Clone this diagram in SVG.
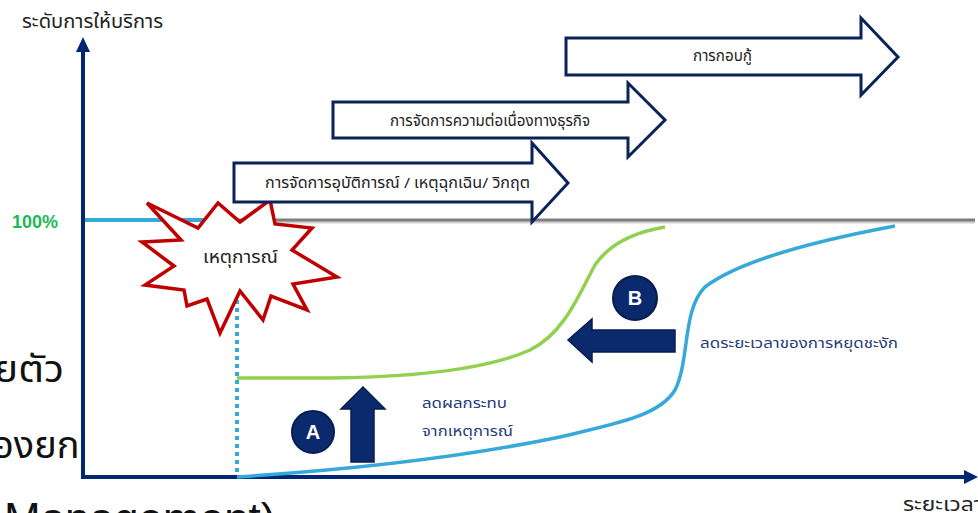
<svg xmlns="http://www.w3.org/2000/svg" width="978" height="513" viewBox="0 0 978 513">
<style>
.th{font-family:"Noto Sans Thai","Tahoma","Noto Sans","DejaVu Sans",sans-serif}
.lbl{font-size:15px;fill:#222}
.navy{fill:#1f3b7a;font-size:14px}
.blk{fill:#fff;stroke:#0a2358;stroke-width:3;stroke-linejoin:miter}
.badge{fill:#0b2a6e;stroke:#071d4d;stroke-width:2}
.bl{font-family:"Liberation Sans",Arial,sans-serif;font-weight:bold;font-size:20px;fill:#fff}
.solid{fill:#0b2a6e;stroke:#071d4d;stroke-width:1.5}
.bg{font-size:38px;fill:#111}
</style>
<rect width="978" height="513" fill="#fff"/>
<!-- background slide fragments -->
<g id="bg-text">
<text class="th bg" x="-6" y="382" textLength="70" lengthAdjust="spacingAndGlyphs">ยตัว</text>
<text class="th bg" x="-8" y="458">องยก</text>
<text x="4" y="534" font-family="Liberation Sans,Arial,sans-serif" font-size="44" fill="#111">Management)</text>
</g>
<g id="connectors">
<!-- axes -->
<line x1="83" y1="50" x2="83" y2="479" stroke="#002776" stroke-width="4"/>
<polygon points="76,52 90,52 83,37" fill="#002776"/>
<line x1="81" y1="477" x2="966" y2="477" stroke="#002776" stroke-width="4"/>
<polygon points="964,470 964,484 978,477" fill="#002776"/>
<!-- 100% level -->
<line x1="85" y1="220" x2="220" y2="220" stroke="#36a9d9" stroke-width="4"/>
<line x1="236" y1="222" x2="975" y2="222" stroke="#d0d0d0" stroke-width="3"/>
<line x1="236" y1="220" x2="975" y2="220" stroke="#7f7f7f" stroke-width="3"/>
<!-- dotted incident line -->
<line x1="237" y1="292" x2="237" y2="476" stroke="#36a9d9" stroke-width="4" stroke-dasharray="4,4"/>
<!-- green curve -->
<path d="M237,378 L330,378 C420,377 490,368 530,350 C565,333 580,292 595,265 C610,243 635,232 665,227" fill="none" stroke="#92d050" stroke-width="3.5"/>
<!-- blue curve -->
<path d="M237,477 C330,471 450,460 560,437 C620,423 660,415 675,390 C690,360 682,310 705,287 C740,260 820,240 895,226" fill="none" stroke="#36a9d9" stroke-width="3.5"/>
</g>
<g id="axis-labels">
<text class="th" x="22" y="28" font-size="19" fill="#222" textLength="141" lengthAdjust="spacingAndGlyphs">ระดับการให้บริการ</text>
<text x="12" y="228" font-family="Liberation Sans,Arial,sans-serif" font-weight="bold" font-size="18" fill="#1db954">100%</text>
<text class="th" x="903" y="511" font-size="19" fill="#222" textLength="80" lengthAdjust="spacingAndGlyphs">ระยะเวลา</text>
</g>
<g id="incident">
<polygon points="147,203 198,228 218,203 240,222 270,200 275,224 312,228 292,250 337,277 293,284 307,310 271,296 263,320 240,291 220,333 207,299 187,306 184,290 145,285 174,266 142,242 181,240" fill="#fff" stroke="#c00000" stroke-width="3.5" stroke-linejoin="miter"/>
<text class="th" x="203" y="263" font-size="17" fill="#222" textLength="75" lengthAdjust="spacingAndGlyphs">เหตุการณ์</text>
</g>
<g id="arrow-incident-mgmt">
<polygon class="blk" points="234,163 532,163 532,143 568,183 532,222 532,202 234,202"/>
<text class="th lbl" x="265" y="188" textLength="265" lengthAdjust="spacingAndGlyphs">การจัดการอุบัติการณ์ / เหตุฉุกเฉิน/  วิกฤต</text>
</g>
<g id="arrow-bcm">
<polygon class="blk" points="333,102 628,102 628,83 665,120 628,157 628,138 333,138"/>
<text class="th lbl" x="390" y="126" textLength="200" lengthAdjust="spacingAndGlyphs">การจัดการความต่อเนื่องทางธุรกิจ</text>
</g>
<g id="arrow-recovery">
<polygon class="blk" points="566,38 861,38 861,18 898,57 861,95 861,75 566,75"/>
<text class="th lbl" x="693" y="61" textLength="59" lengthAdjust="spacingAndGlyphs">การกอบกู้</text>
</g>
<g id="badge-a">
<circle class="badge" cx="313" cy="432" r="21"/>
<text class="bl" x="313" y="439" text-anchor="middle">A</text>
</g>
<g id="arrow-up-a">
<polygon class="solid" points="351,462 374,462 374,409 385,409 363,387 341,409 351,409"/>
</g>
<g id="label-impact">
<text class="th navy" x="422" y="408" textLength="85" lengthAdjust="spacingAndGlyphs">ลดผลกระทบ</text>
<text class="th navy" x="422" y="436" textLength="91" lengthAdjust="spacingAndGlyphs">จากเหตุการณ์</text>
</g>
<g id="badge-b">
<circle class="badge" cx="635" cy="298" r="22"/>
<text class="bl" x="635" y="305" text-anchor="middle">B</text>
</g>
<g id="arrow-left-b">
<polygon class="solid" points="675,330 592,330 592,319 568,340 592,362 592,352 675,352"/>
</g>
<g id="label-downtime">
<text class="th navy" x="700" y="348" textLength="198" lengthAdjust="spacingAndGlyphs">ลดระยะเวลาของการหยุดชะงัก</text>
</g>
</svg>
